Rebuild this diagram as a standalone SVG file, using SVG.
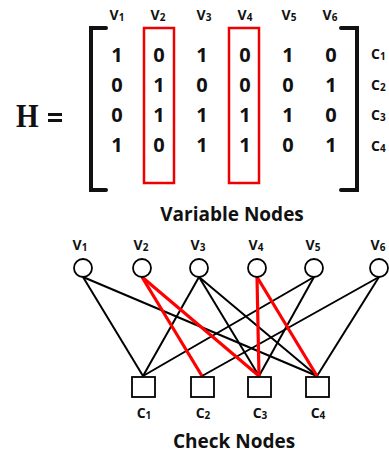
<svg xmlns="http://www.w3.org/2000/svg" width="389" height="455" viewBox="0 0 389 455">
  <style>
    .lbl { font-family: "Open Sans", "Liberation Sans", sans-serif; font-weight: bold; fill: #111; }
    .sub { font-size: 10px; }
    .dig { font-family: "Open Sans", "Liberation Sans", sans-serif; font-weight: bold; font-size: 20px; fill: #111; text-anchor: middle; }
    .title { font-family: "Open Sans", "Liberation Sans", sans-serif; font-weight: bold; font-size: 19px; fill: #111; text-anchor: middle; }
    .bracket { fill: none; stroke: #111; stroke-width: 4; stroke-linecap: round; }
    .hl { fill: none; stroke: #e00; stroke-width: 2.5; }
    .edge { stroke: #000; stroke-width: 2; }
    .edge-r { stroke: #f00; stroke-width: 3.2; }
    .vnode { fill: #fff; stroke: #000; stroke-width: 1.8; }
    .cnode { fill: #fff; stroke: #000; stroke-width: 1.8; }
  </style>
  <rect width="389" height="455" fill="#fff"/>

  <!-- parity-check matrix -->
  <g id="matrix">
    <text transform="translate(16,127) scale(0.88,1)" font-family="Liberation Serif, serif" font-weight="bold" font-size="33" fill="#111">H</text>
    <rect x="48" y="113" width="14" height="3" fill="#111"/>
    <rect x="48" y="119" width="14" height="3" fill="#111"/>
    <path class="bracket" d="M106,28 H91 V190 H106"/>
    <path class="bracket" d="M341,28 H357 V190 H341"/>
    <rect class="hl" x="144" y="28" width="30" height="155"/>
    <rect class="hl" x="229" y="28" width="30" height="155"/>
    <g class="lbl" font-size="14" text-anchor="middle">
      <text x="117" y="20">V<tspan class="sub" dy="1">1</tspan></text>
      <text x="158" y="20">V<tspan class="sub" dy="1">2</tspan></text>
      <text x="204" y="20">V<tspan class="sub" dy="1">3</tspan></text>
      <text x="245" y="20">V<tspan class="sub" dy="1">4</tspan></text>
      <text x="289" y="20">V<tspan class="sub" dy="1">5</tspan></text>
      <text x="330" y="20">V<tspan class="sub" dy="1">6</tspan></text>
    </g>
    <g class="lbl" font-size="14">
      <text x="371" y="59">C<tspan class="sub" dy="1">1</tspan></text>
      <text x="371" y="90">C<tspan class="sub" dy="1">2</tspan></text>
      <text x="371" y="120">C<tspan class="sub" dy="1">3</tspan></text>
      <text x="371" y="151">C<tspan class="sub" dy="1">4</tspan></text>
    </g>
    <g class="dig">
      <text x="117" y="62">1</text><text x="159" y="62">0</text><text x="202" y="62">1</text><text x="245" y="62">0</text><text x="288" y="62">1</text><text x="331" y="62">0</text>
      <text x="117" y="92">0</text><text x="159" y="92">1</text><text x="202" y="92">0</text><text x="245" y="92">0</text><text x="288" y="92">0</text><text x="331" y="92">1</text>
      <text x="117" y="122">0</text><text x="159" y="122">1</text><text x="202" y="122">1</text><text x="245" y="122">1</text><text x="288" y="122">1</text><text x="331" y="122">0</text>
      <text x="117" y="152">1</text><text x="159" y="152">0</text><text x="202" y="152">1</text><text x="245" y="152">1</text><text x="288" y="152">0</text><text x="331" y="152">1</text>
    </g>
  </g>

  <text class="title" x="232" y="221">Variable Nodes</text>
  <text class="title" x="234" y="448">Check Nodes</text>

  <!-- Tanner graph edges -->
  <g id="edges">
    <line class="edge" x1="83" y1="277" x2="143" y2="376"/>
    <line class="edge" x1="83" y1="277" x2="317" y2="376"/>
    <line class="edge" x1="199" y1="277" x2="143" y2="376"/>
    <line class="edge" x1="199" y1="277" x2="259" y2="376"/>
    <line class="edge" x1="199" y1="277" x2="317" y2="376"/>
    <line class="edge" x1="314" y1="277" x2="143" y2="376"/>
    <line class="edge" x1="314" y1="277" x2="259" y2="376"/>
    <line class="edge" x1="379" y1="277" x2="202" y2="376"/>
    <line class="edge" x1="379" y1="277" x2="317" y2="376"/>
    <line class="edge-r" x1="142" y1="277" x2="202" y2="376"/>
    <line class="edge-r" x1="142" y1="277" x2="259" y2="376"/>
    <line class="edge-r" x1="257" y1="277" x2="259" y2="376"/>
    <line class="edge-r" x1="257" y1="277" x2="317" y2="376"/>
  </g>

  <g id="v1"><circle class="vnode" cx="83" cy="268" r="9"/><text class="lbl" font-size="14" x="80" y="250" text-anchor="middle">V<tspan class="sub" dy="1">1</tspan></text></g>
  <g id="v2"><circle class="vnode" cx="142" cy="268" r="9"/><text class="lbl" font-size="14" x="141" y="250" text-anchor="middle">V<tspan class="sub" dy="1">2</tspan></text></g>
  <g id="v3"><circle class="vnode" cx="199" cy="268" r="9"/><text class="lbl" font-size="14" x="198" y="250" text-anchor="middle">V<tspan class="sub" dy="1">3</tspan></text></g>
  <g id="v4"><circle class="vnode" cx="257" cy="268" r="9"/><text class="lbl" font-size="14" x="256" y="250" text-anchor="middle">V<tspan class="sub" dy="1">4</tspan></text></g>
  <g id="v5"><circle class="vnode" cx="314" cy="268" r="9"/><text class="lbl" font-size="14" x="313" y="250" text-anchor="middle">V<tspan class="sub" dy="1">5</tspan></text></g>
  <g id="v6"><circle class="vnode" cx="379" cy="268" r="9"/><text class="lbl" font-size="14" x="378" y="250" text-anchor="middle">V<tspan class="sub" dy="1">6</tspan></text></g>

  <g id="c1"><rect class="cnode" x="132" y="377" width="23" height="20"/><text class="lbl" font-size="14" x="144" y="418" text-anchor="middle">C<tspan class="sub" dy="1">1</tspan></text></g>
  <g id="c2"><rect class="cnode" x="191" y="377" width="23" height="20"/><text class="lbl" font-size="14" x="203" y="418" text-anchor="middle">C<tspan class="sub" dy="1">2</tspan></text></g>
  <g id="c3"><rect class="cnode" x="248" y="377" width="23" height="20"/><text class="lbl" font-size="14" x="260" y="418" text-anchor="middle">C<tspan class="sub" dy="1">3</tspan></text></g>
  <g id="c4"><rect class="cnode" x="306" y="377" width="23" height="20"/><text class="lbl" font-size="14" x="318" y="418" text-anchor="middle">C<tspan class="sub" dy="1">4</tspan></text></g>
</svg>
